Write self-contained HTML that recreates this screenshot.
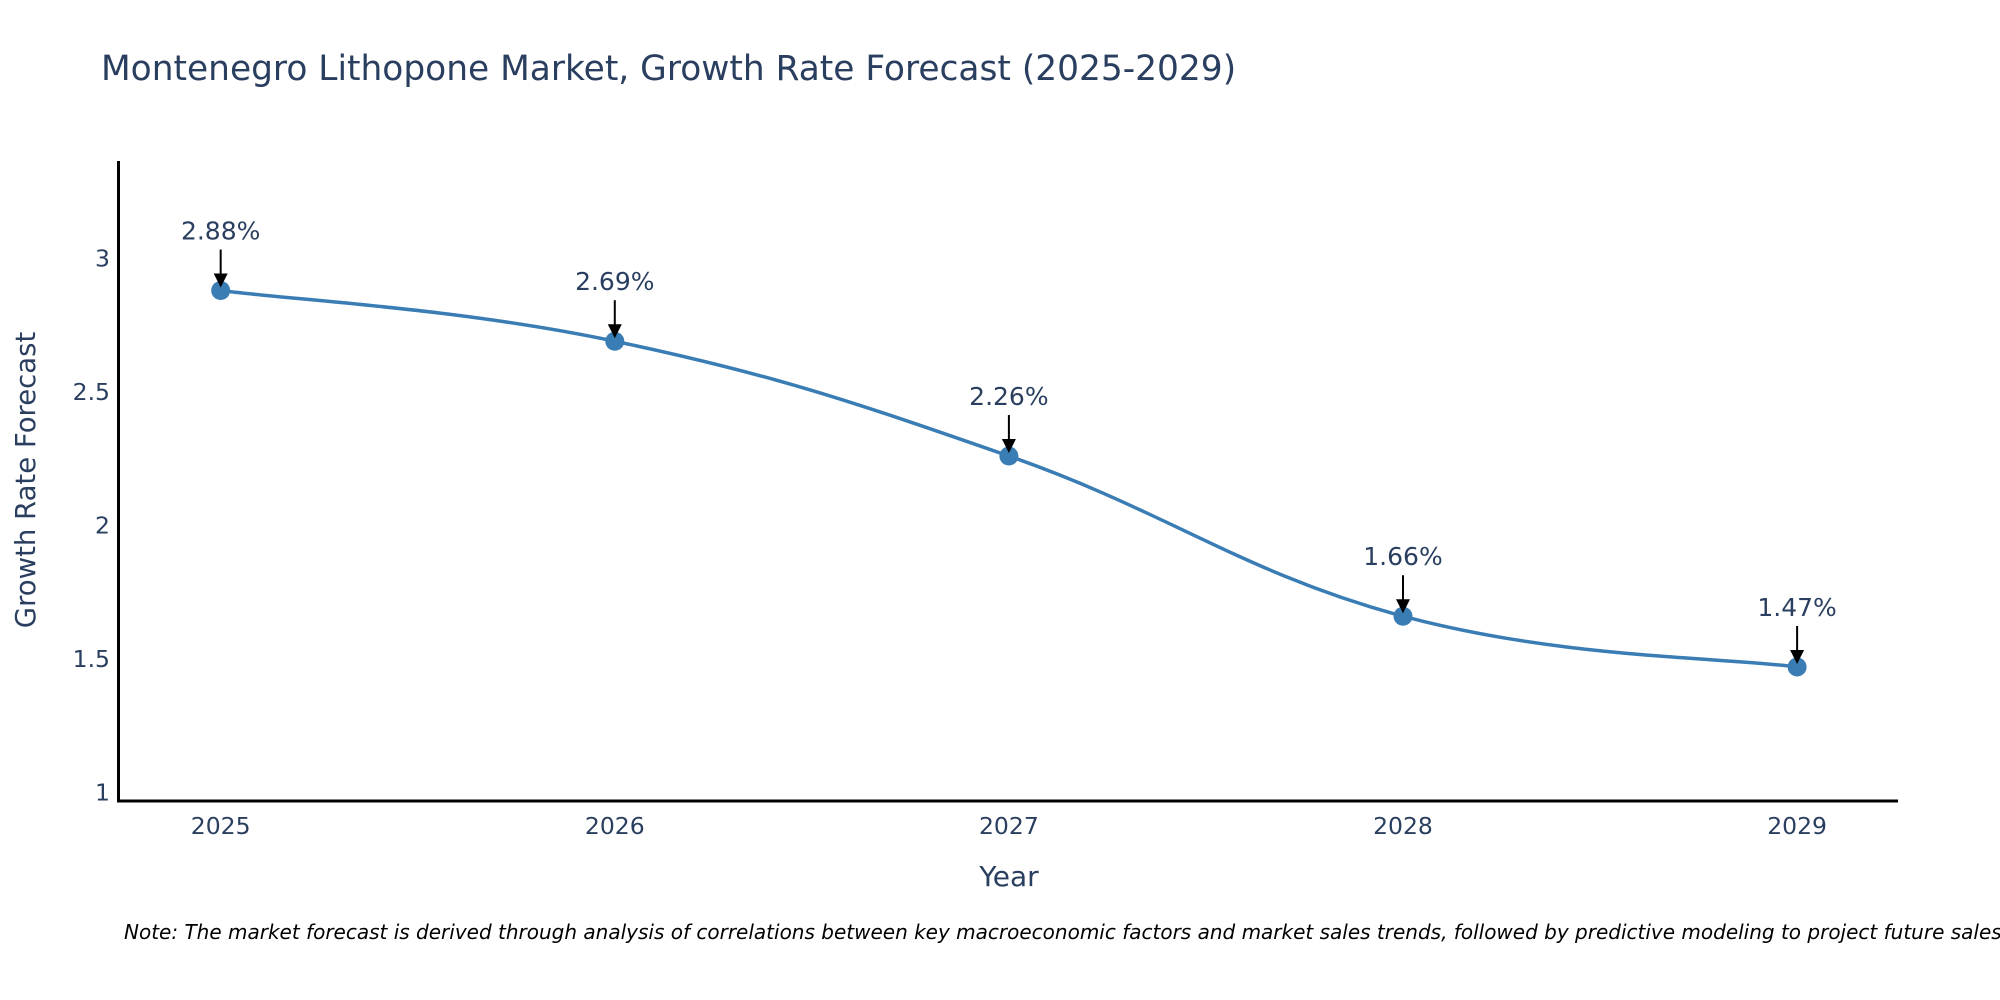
<!DOCTYPE html>
<html><head><meta charset="utf-8"><style>
html,body{margin:0;padding:0;background:#fff;}
svg{display:block;font-family:"DejaVu Sans","Liberation Sans",sans-serif;}
</style></head><body>
<svg id="chart" width="2000" height="1000" viewBox="0 0 2000 1000">
<text x="101" y="80" font-size="34.4" fill="#2a3f5f">Montenegro Lithopone Market, Growth Rate Forecast (2025-2029)</text>
<g id="yticks"></g>
<g id="xticks"></g>
<path id="line" fill="none" stroke="#3a7db4" stroke-width="3.5"/>
<g id="points"></g>
<g id="annots"></g>
<line x1="118.5" y1="161" x2="118.5" y2="802" stroke="#000" stroke-width="3"/>
<line x1="117" y1="801" x2="1898" y2="801" stroke="#000" stroke-width="3"/>
<text x="1009" y="886" font-size="28" fill="#2a3f5f" text-anchor="middle">Year</text>
<text transform="translate(35,480) rotate(-90)" font-size="27.5" fill="#2a3f5f" text-anchor="middle">Growth Rate Forecast</text>
<text x="124" y="939" font-size="20" font-style="italic" fill="#000">Note: The market forecast is derived through analysis of correlations between key macroeconomic factors and market sales trends, followed by predictive modeling to project future sales.</text>
</svg>
<script>
const years = [2025, 2026, 2027, 2028, 2029];
const rates = [2.88, 2.69, 2.26, 1.66, 1.47];
const yTickValues = [1, 1.5, 2, 2.5, 3];
const yTickLabels = ["1", "1.5", "2", "2.5", "3"];

const NS = "http://www.w3.org/2000/svg";
const xMin = 2025 - 0.259, xMax = 2029 + 0.256, pxL = 118.6, pxR = 1898;
const yMin = 0.968, yMax = 3.365, pyB = 801, pyT = 161;
function xs(v){ return pxL + (v - xMin) / (xMax - xMin) * (pxR - pxL); }
function ys(v){ return pyB - (v - yMin) / (yMax - yMin) * (pyB - pyT); }
function mk(tag, attrs, parent){ const e = document.createElementNS(NS, tag); for (const k in attrs) e.setAttribute(k, attrs[k]); parent.appendChild(e); return e; }

const yt = document.getElementById('yticks');
yTickValues.forEach((v, i) => {
  const t = mk('text', {x: 110, y: ys(v) + 8, 'font-size': 23.5, fill: '#2a3f5f', 'text-anchor': 'end'}, yt);
  t.textContent = yTickLabels[i];
  
  
});
const xt = document.getElementById('xticks');
years.forEach(y => {
  const t = mk('text', {x: xs(y), y: 834, 'font-size': 23.5, fill: '#2a3f5f', 'text-anchor': 'middle'}, xt);
  t.textContent = String(y);
  
  
});

const pts = years.map((y, i) => [xs(y), ys(rates[i])]);
let d = 'M' + pts[0][0] + ',' + pts[0][1];
const s = 0.2;
for (let i = 0; i < pts.length - 1; i++) {
  const p0 = pts[Math.max(i - 1, 0)], p1 = pts[i], p2 = pts[i + 1], p3 = pts[Math.min(i + 2, pts.length - 1)];
  const c1 = [p1[0] + (p2[0] - p0[0]) * s, p1[1] + (p2[1] - p0[1]) * s];
  const c2 = [p2[0] - (p3[0] - p1[0]) * s, p2[1] - (p3[1] - p1[1]) * s];
  d += ' C' + c1.join(',') + ' ' + c2.join(',') + ' ' + p2.join(',');
}
document.getElementById('line').setAttribute('d', d);

const pg = document.getElementById('points');
const ag = document.getElementById('annots');
pts.forEach((p, i) => {
  const c = mk('circle', {cx: p[0], cy: p[1], r: 9.5, fill: '#3a7db4'}, pg);
  
  
  const ln = mk('line', {x1: p[0], y1: p[1] - 41, x2: p[0], y2: p[1] - 14, stroke: '#000', 'stroke-width': 2}, ag);
  
  
  const ah = mk('path', {d: `M${p[0]-7},${p[1]-17} L${p[0]+7},${p[1]-17} L${p[0]},${p[1]-3} Z`, fill: '#000'}, ag);
  
  
  const t = mk('text', {x: p[0], y: p[1] - 51, 'font-size': 25, fill: '#2a3f5f', 'text-anchor': 'middle'}, ag);
  t.textContent = rates[i].toFixed(2) + '%';
  
  
});
</script>
</body></html>
